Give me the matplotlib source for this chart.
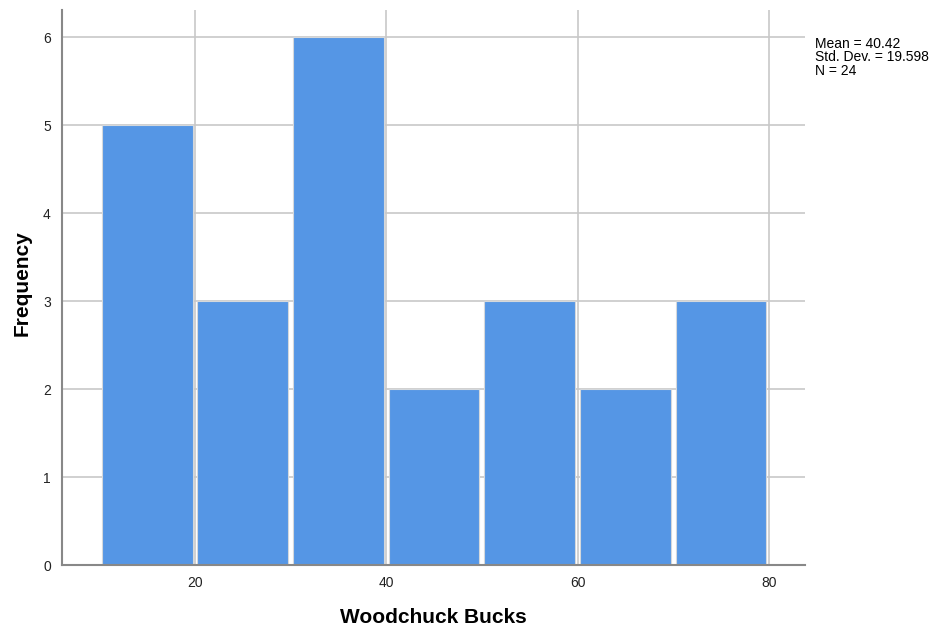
import numpy as np
import matplotlib.pyplot as plt

plt.rcParams['font.family'] = ['Liberation Sans', 'DejaVu Sans']

# histogram bins (Woodchuck Bucks) and frequencies
bin_edges = [10, 20, 30, 40, 50, 60, 70, 80]
counts = [5, 3, 6, 2, 3, 2, 3]
x_ticks = [20, 40, 60, 80]
y_ticks = [0, 1, 2, 3, 4, 5, 6]
stats_text = ["Mean = 40.42", "Std. Dev. = 19.598", "N = 24"]


def main():
    fig = plt.figure(figsize=(9.32, 6.33), dpi=100)
    ax = fig.add_axes([0.0665, 0.1074, 0.797, 0.877])

    edges = np.array(bin_edges, dtype=float)
    centers = (edges[:-1] + edges[1:]) / 2
    widths = np.diff(edges) - 0.5

    ax.set_axisbelow(True)
    ax.grid(True, color='#c8c8c8', linewidth=1.2)
    ax.bar(centers, counts, width=widths, color='#5596e5',
           edgecolor='#d4d8dc', linewidth=0.8, zorder=2)

    ax.set_xlim(6.1, 83.76)
    ax.set_ylim(0, 6.31)
    ax.set_xticks(x_ticks)
    ax.set_yticks(y_ticks)
    ax.tick_params(length=0, labelsize=10, colors='#222222', pad=8)

    for s in ['top', 'right']:
        ax.spines[s].set_visible(False)
    for s in ['left', 'bottom']:
        ax.spines[s].set_color('#888888')
        ax.spines[s].set_linewidth(1.5)

    ax.set_xlabel('Woodchuck Bucks', fontsize=15, fontweight='bold')
    ax.set_ylabel('Frequency', fontsize=15, fontweight='bold')
    ax.xaxis.set_label_coords(0.5, -0.078)
    ax.yaxis.set_label_coords(-0.041, 0.508)

    fig.text(0.874, 0.942, "\n".join(stats_text), fontsize=10,
             va='top', ha='left', linespacing=0.95)

    fig.savefig('out.png', dpi=100)


if __name__ == "__main__":
    main()
